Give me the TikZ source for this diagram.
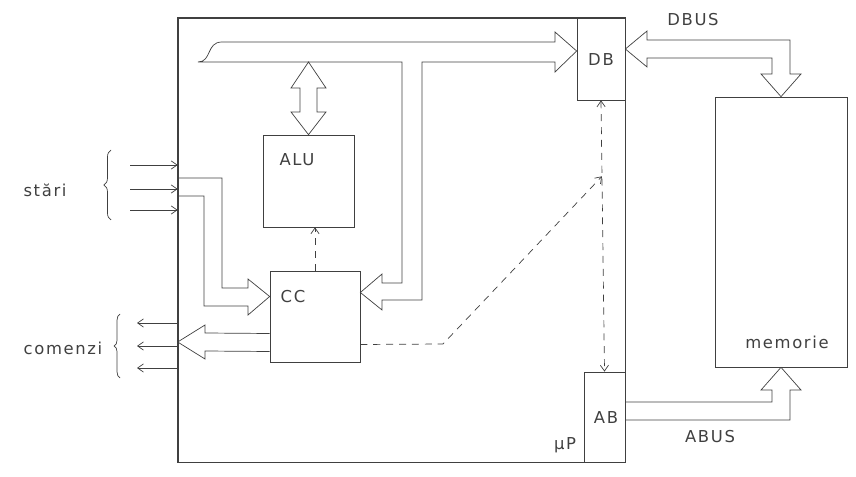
\documentclass[tikz,border=0pt]{standalone}
\usepackage{fontspec}
\setmainfont{DejaVu Sans}[LetterSpace=10]
\usetikzlibrary{arrows.meta,calc,fit,decorations.pathreplacing}
\tikzset{
  ln/.style={line width=0.6pt, black!75},
  box/.style={ln, draw, inner sep=0pt},
  bus/.style={ln, line join=miter},
  ctl/.style={ln, dash pattern=on 6pt off 5pt},
  tip/.style={-{Straight Barb[length=5pt,width=7pt]}},
  lbl/.style={font=\fontsize{14}{16}\selectfont, text=black!75},
}
\begin{document}
\begin{tikzpicture}[x=0.3mm,y=-0.3mm]
  \useasboundingbox (0,0) rectangle (856,477);
  \foreach \n/\xa/\ya/\xb/\yb in {up/178/18/625/462,db/577/18/625/100,ab/584/372/625/462,alu/263/135/354/227,cc/270/271/360/362,mem/715/97/847/367}
    \node[box, fit={(\xa,\ya) (\xb,\yb)}] (\n) {};
  \draw[ln, line width=0.9pt] (up.north west) rectangle (up.south east);

  \node[lbl] (alul) at (297,160) {ALU};
  \node[lbl] (ccl) at (293,297) {CC};
  \node[lbl] (dbl) at (601,60) {DB};
  \node[lbl] (abl) at (606,418) {AB};
  \node[lbl] (upl) at (565,445) {µP};
  \node[lbl] (meml) at (787,342) {memorie};
  \node[lbl] (dbus) at (693,20) {DBUS};
  \node[lbl] (abus) at (710,437) {ABUS};
  \node[lbl] (st) at (45,190) {stări};
  \node[lbl] (cm) at (63,348) {comenzi};

  \draw[bus] (198,62) .. controls (212,62) and (206,42) .. (222,42) -- (555,42) -- (555,32)
    -- ($(db.west)+(0,-8)$) -- (555,72) -- (555,62) -- (422,62) -- (422,300) -- (382,300)
    -- (382,310) -- ($(cc.east)+(0,-24)$) -- (382,274) -- (382,283) -- (402,283) -- (402,62) -- cycle;
  \draw[bus] (308.5,62) -- (326,88) -- (317,88) -- (317,112) -- (326,112) -- (alu.north)
    -- (291,112) -- (300,112) -- (300,88) -- (291,88) -- cycle;
  \draw[bus] ($(db.east)+(0,-10)$) -- (647,31) -- (647,40) -- (790,40) -- (790,74) -- (801,74)
    -- (mem.north) -- (761,74) -- (772,74) -- (772,58) -- (647,58) -- (647,67) -- cycle;
  \draw[bus] ($(ab.east)+(0,-15)$) -- (772,402) -- (772,390) -- (761,390) -- (mem.south)
    -- (801,390) -- (790,390) -- (790,420) -- ($(ab.east)+(0,3)$);
  \draw[bus] (up.west |- 0,178) -- (222,178) -- (222,288) -- (248,288) -- (248,279)
    -- ($(cc.west)+(0,-20)$) -- (248,315) -- (248,306) -- (204,306) -- (204,196) -- (up.west |- 0,196);
  \draw[bus] ($(cc.west)+(0,17)$) -- (205,333) -- (205,325) -- (up.west |- 0,342) -- (205,359)
    -- (205,351) -- ($(cc.west)+(0,35)$);

  \foreach \y in {165,189,210}
    \draw[ln, tip] (130,\y) -- (up.west |- 0,\y);
  \foreach \y in {323,346,368}
    \draw[ln, tip] (up.west |- 0,\y) -- (137,\y);
  \draw[ln, decorate, decoration={brace, amplitude=6pt}] (111,220) -- (111,150);
  \draw[ln, decorate, decoration={brace, amplitude=5pt}] (120,378) -- (120,314);

  \draw[ctl, tip] (cc.north) -- (cc.north |- alu.south);
  \draw[ctl, {Straight Barb[length=5pt,width=7pt]}-{Straight Barb[length=5pt,width=7pt]}] (db.south) -- (ab.north);
  \coordinate (mid) at ($(db.south)!0.28!(ab.north)$);
  \draw[ctl, tip] ($(cc.east)+(0,28)$) -- (443,344) -- (mid);
\end{tikzpicture}
\end{document}
